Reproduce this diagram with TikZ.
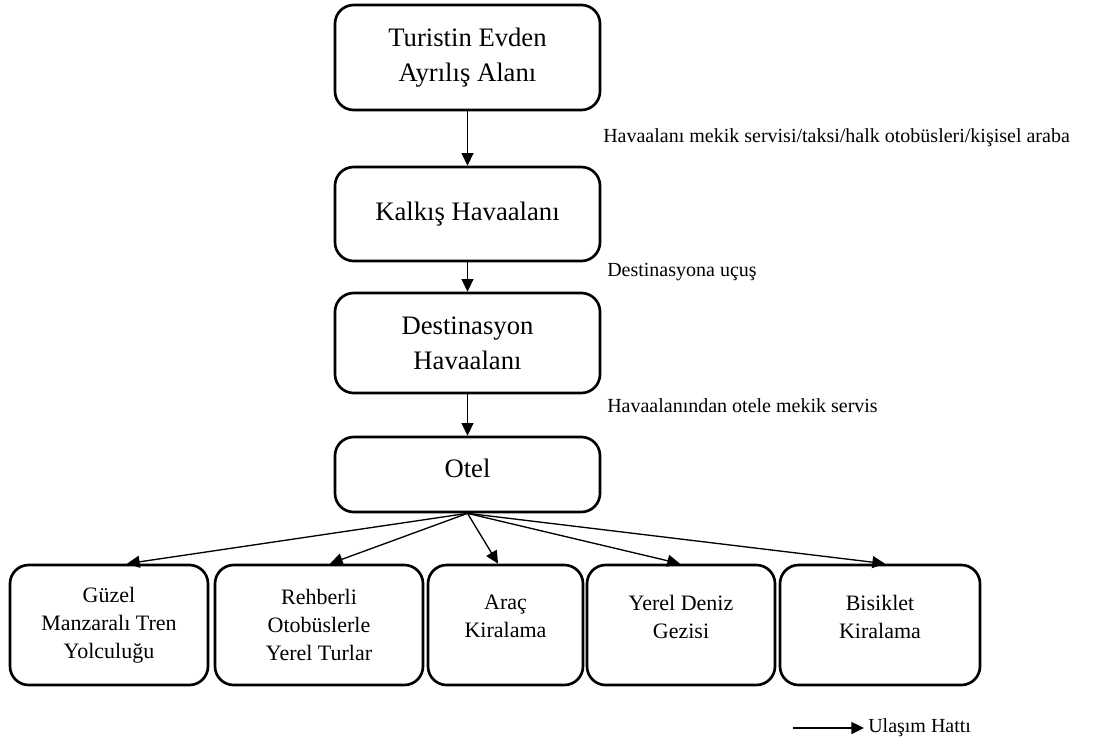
\documentclass[tikz,border=0pt]{standalone}
\usepackage{fontspec}
\setmainfont{Liberation Serif}
\usetikzlibrary{arrows.meta}
\begin{document}
\begin{tikzpicture}[x=0.75pt,y=-0.75pt,
  box/.style={draw, line width=2pt, rounded corners=14pt, inner sep=0pt},
  mainbox/.style={box, minimum width=198.75pt, align=center,
    font=\fontsize{20}{26}\selectfont},
  subbox/.style={box, minimum height=90pt},
  subtext/.style={align=center, inner sep=0pt,
    font=\fontsize{16.5}{21}\selectfont},
  note/.style={anchor=west, inner sep=0pt, font=\fontsize{15}{18}\selectfont},
  flow/.style={-{Triangle[length=9.5pt,width=9pt]}, line width=1pt}
]
\useasboundingbox (0,0) rectangle (1095,744);

% main chain
\node[mainbox, minimum height=78.75pt] (home) at (467.5,57.5) {Turistin Evden\\Ayrılış Alanı};
\node[mainbox, minimum height=70.5pt] (dep) at (467.5,214) {Kalkış Havaalanı};
\node[mainbox, minimum height=75pt] (dest) at (467.5,343) {Destinasyon\\Havaalanı};
\node[mainbox, minimum height=56.25pt, text depth=10pt] (hotel) at (467.5,474.5) {Otel};

\draw[flow] (home) -- (dep);
\draw[flow] (dep) -- (dest);
\draw[flow] (dest) -- (hotel);

% transfer labels
\node[note] (l1) at (603,138) {Havaalanı mekik servisi/taksi/halk otobüsleri/kişisel araba};
\node[note] (l2) at (607,272) {Destinasyona uçuş};
\node[note] (l3) at (607,406) {Havaalanından otele mekik servis};

% activities
\node[subbox, minimum width=148.5pt] (train) at (109,625) {};
\node[subbox, minimum width=156pt] (tour) at (319,625) {};
\node[subbox, minimum width=116.25pt] (car) at (505.5,625) {};
\node[subbox, minimum width=141pt] (sea) at (681,625) {};
\node[subbox, minimum width=150pt] (bike) at (880,625) {};

\node[subtext] (traint) at (train.center) {Güzel\\Manzaralı Tren\\Yolculuğu};
\node[subtext] (tourt) at (tour.center) {Rehberli\\Otobüslerle\\Yerel Turlar};
\node[subtext] (cart) at ([yshift=6.4pt]car.center) {Araç\\Kiralama};
\node[subtext] (seat) at ([yshift=6.4pt]sea.center) {Yerel Deniz\\Gezisi};
\node[subtext] (biket) at ([yshift=6.4pt]bike.center) {Bisiklet\\Kiralama};

\draw[flow] (hotel.south) -- ([xshift=13.5pt]train.north);
\draw[flow] (hotel.south) -- ([xshift=8.25pt]tour.north);
\draw[flow] (hotel.south) -- ([xshift=-5.6pt]car.north);
\draw[flow] (hotel.south) -- ([xshift=-0.75pt]sea.north);
\draw[flow] (hotel.south) -- ([xshift=3.75pt]bike.north);

% legend
\coordinate (legs) at (793,728);
\node[note] (legt) at (868,728) {Ulaşım Hattı};
\draw[flow] (legs) -- ([xshift=-3pt]legt.west);
\end{tikzpicture}
\end{document}
